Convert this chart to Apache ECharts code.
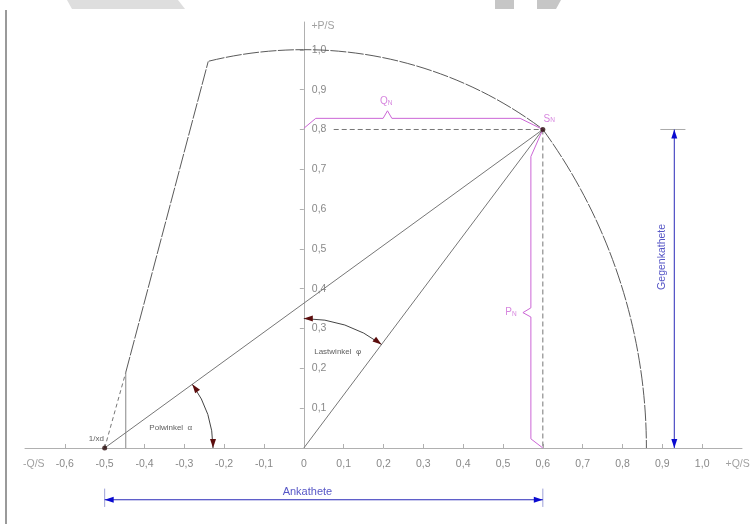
<!DOCTYPE html>
<html>
<head>
<meta charset="utf-8">
<script src="https://cdn.jsdelivr.net/npm/echarts@6/dist/echarts.min.js"></script>
<style>
  html, body { margin: 0; padding: 0; background: #fff; }
  #chart { width: 750px; height: 524px; }
</style>
</head>
<body>
<div id="chart"></div>
<script>
// ---- Axis ticks and labels (per-unit Q/S and P/S) ----
const xTicks = [-0.6, -0.5, -0.4, -0.3, -0.2, -0.1, 0, 0.1, 0.2, 0.3, 0.4, 0.5, 0.6, 0.7, 0.8, 0.9, 1.0];
const xTickLabels = ['-0,6', '-0,5', '-0,4', '-0,3', '-0,2', '-0,1', '0', '0,1', '0,2', '0,3', '0,4', '0,5', '0,6', '0,7', '0,8', '0,9', '1,0'];
const yTicks = [0.1, 0.2, 0.3, 0.4, 0.5, 0.6, 0.7, 0.8, 0.9, 1.0];
const yTickLabels = ['0,1', '0,2', '0,3', '0,4', '0,5', '0,6', '0,7', '0,8', '0,9', '1,0'];

// ---- Characteristic points ----
const ratedPoint = [0.6, 0.8];        // S_N
const excitationPoint = [-0.5, 0];    // 1/xd

// ---- Limit curves: [centre x, centre y, radius, from angle, to angle] (degrees) ----
const statorArc = [0, 0, 1, 53.13, 103.8];      // stator current limit
const rotorArc = [-0.5, 0, 1.36, 0, 36.03];     // excitation (rotor current) limit

// ---- Straight segments ----
const stabilityDashed = [[-0.5, 0], [-0.447, 0.19]];
const stabilitySolid = [[-0.447, 0.19], [-0.24, 0.971]];
const stabilityFoot = [[-0.447, 0], [-0.447, 0.19]];
const poleLine = [[-0.5, 0], [0.6, 0.8]];
const loadLine = [[0, 0], [0.6, 0.8]];
const pLevel = [[0.075, 0.8], [0.6, 0.8]];
const qLevel = [[0.6, 0.8], [0.6, 0]];

// ---- Braces for Q_N and P_N ----
const qBrace = [[0, 0.803], [0.03, 0.828], [0.199, 0.828], [0.21, 0.847], [0.221, 0.828], [0.543, 0.828], [0.6, 0.8]];
const pBrace = [[0.6, 0.8], [0.57, 0.732], [0.57, 0.352], [0.55, 0.34], [0.57, 0.329], [0.57, 0.023], [0.6, 0]];

// ---- Angle arcs: [centre x, centre y, radius, from angle, to angle] ----
const angleArcs = [
  [0, 0, 0.325, 53.13, 90],     // Lastwinkel
  [-0.5, 0, 0.272, 0, 36.03]    // Polwinkel
];

// ---- Dimension arrows: [x1, y1, x2, y2] ----
const dimensionArrows = [
  [-0.5, -0.13, 0.6, -0.13],    // Ankathete
  [0.93, 0, 0.93, 0.8]          // Gegenkathete
];
const ankatheteEnds = [
  [[-0.5, -0.102], [-0.5, -0.148]],
  [[0.6, -0.102], [0.6, -0.148]]
];
const gegenkatheteTop = [[0.895, 0.8], [0.958, 0.8]];

// ---- Annotation texts: [text, x, y] ----
const annotations = [
  ['+P/S', 0.048, 1.059],
  ['-Q/S', -0.678, 0],
  ['+Q/S', 1.089, 0],
  ['1/xd', -0.521, 0.023],
  ['Polwinkel  α', -0.334, 0.052],
  ['Lastwinkel  φ', 0.085, 0.241],
  ['Q_N', 0.207, 0.87],
  ['S_N', 0.616, 0.826],
  ['P_N', 0.52, 0.34],
  ['Ankathete', 0.009, -0.11],
  ['Gegenkathete', 0.9, 0.48]
];

const MAGENTA = '#cc66d6';
const BLUE = '#2a2ab8';
const FONT = 'Liberation Sans, Arial, sans-serif';

function fmt(list, labels) {
  return function (v) {
    for (let i = 0; i < list.length; i++) {
      if (Math.abs(list[i] - v) < 1e-6) return labels[i];
    }
    return '';
  };
}

function segment(data, color, type, width) {
  return {
    type: 'line', data: data, showSymbol: false, symbol: 'none', silent: true, clip: false,
    lineStyle: { color: color, width: width || 1, type: type || 'solid' }, z: 3
  };
}

function rad(d) { return d * Math.PI / 180; }

// Circle arcs drawn through the cartesian scale
function renderArc(params, api) {
  const c = api.coord([api.value(0), api.value(1)]);
  const r = api.size([api.value(2), 0])[0];
  return {
    type: 'arc',
    shape: { cx: c[0], cy: c[1], r: r, startAngle: -rad(api.value(4)), endAngle: -rad(api.value(3)), clockwise: true },
    style: { stroke: '#5a5a5a', fill: 'none', lineWidth: 1, lineDash: [16, 1.5] }
  };
}

// Angle marks with arrowheads at both ends
function renderAngle(params, api) {
  const c = api.coord([api.value(0), api.value(1)]);
  const r = api.size([api.value(2), 0])[0];
  const a0 = rad(api.value(3)), a1 = rad(api.value(4));
  function head(a, dir) {
    const px = c[0] + r * Math.cos(a), py = c[1] - r * Math.sin(a);
    const tx = -Math.sin(a) * dir, ty = -Math.cos(a) * dir;
    const nx = -ty, ny = tx, L = 9, W = 3;
    return {
      type: 'polygon',
      shape: { points: [[px, py], [px - tx * L + nx * W, py - ty * L + ny * W], [px - tx * L - nx * W, py - ty * L - ny * W]] },
      style: { fill: '#5c0d0d' }
    };
  }
  return {
    type: 'group',
    children: [
      {
        type: 'arc',
        shape: { cx: c[0], cy: c[1], r: r, startAngle: -a1, endAngle: -a0, clockwise: true },
        style: { stroke: '#444', fill: 'none', lineWidth: 1 }
      },
      head(a1, 1),
      head(a0, -1)
    ]
  };
}

// Double-headed dimension arrows
function renderArrow(params, api) {
  const p1 = api.coord([api.value(0), api.value(1)]);
  const p2 = api.coord([api.value(2), api.value(3)]);
  const dx = p2[0] - p1[0], dy = p2[1] - p1[1];
  const len = Math.hypot(dx, dy), ux = dx / len, uy = dy / len;
  const nx = -uy, ny = ux, L = 9, W = 3;
  function tri(p, sx, sy) {
    return {
      type: 'polygon',
      shape: { points: [[p[0], p[1]], [p[0] - sx * L + nx * W, p[1] - sy * L + ny * W], [p[0] - sx * L - nx * W, p[1] - sy * L - ny * W]] },
      style: { fill: '#0a0ad0' }
    };
  }
  return {
    type: 'group',
    children: [
      { type: 'line', shape: { x1: p1[0], y1: p1[1], x2: p2[0], y2: p2[1] }, style: { stroke: BLUE, lineWidth: 1 } },
      tri(p2, ux, uy),
      tri(p1, -ux, -uy)
    ]
  };
}

const subRich = {
  m: { fontSize: 10, color: MAGENTA, fontFamily: FONT },
  s: { fontSize: 6.5, color: MAGENTA, fontFamily: FONT, verticalAlign: 'bottom', padding: [3, 0, 0, 0] }
};

function annotationLabel(text) {
  const base = { show: true, position: 'inside', fontFamily: FONT, align: 'center', verticalAlign: 'middle' };
  if (text.indexOf('_') > 0) {
    const parts = text.split('_');
    return Object.assign(base, { formatter: '{m|' + parts[0] + '}{s|' + parts[1] + '}', rich: subRich });
  }
  if (text === '+P/S') return Object.assign(base, { formatter: text, color: '#888', fontSize: 10.5 });
  if (text === '-Q/S' || text === '+Q/S') return Object.assign(base, { formatter: text, color: '#888', fontSize: 10.5, offset: [0, 16] });
  if (text === 'Ankathete') return Object.assign(base, { formatter: text, color: BLUE, fontSize: 11 });
  if (text === 'Gegenkathete') return Object.assign(base, { formatter: text, color: BLUE, fontSize: 10.5, rotate: 90 });
  return Object.assign(base, { formatter: text, color: '#333', fontSize: 8 });
}

const chart = echarts.init(document.getElementById('chart'), null, { renderer: 'canvas' });

chart.setOption({
  animation: false,
  backgroundColor: '#fff',
  graphic: [
    { type: 'rect', shape: { x: 5, y: 10, width: 2, height: 514 }, style: { fill: '#9a9a9a' }, silent: true },
    { type: 'polygon', shape: { points: [[67, 0], [178, 0], [185, 9], [72, 9]] }, style: { fill: '#dedede' }, silent: true },
    { type: 'rect', shape: { x: 495, y: 0, width: 19, height: 9 }, style: { fill: '#c6c6c6' }, silent: true },
    { type: 'polygon', shape: { points: [[537, 0], [561, 0], [556, 9], [537, 9]] }, style: { fill: '#c6c6c6' }, silent: true }
  ],
  grid: { left: 25, right: 8, top: 22, bottom: 76, containLabel: false },
  xAxis: {
    type: 'value', min: -0.7, max: 1.1, interval: 0.1,
    axisLine: { onZero: true, lineStyle: { color: '#b0b0b0', width: 1 } },
    axisTick: { customValues: xTicks, inside: true, length: 4, lineStyle: { color: '#b0b0b0' } },
    axisLabel: { customValues: xTicks, margin: 11, color: '#888', fontSize: 10.5, fontFamily: FONT, formatter: fmt(xTicks, xTickLabels) },
    splitLine: { show: false }
  },
  yAxis: {
    type: 'value', min: 0, max: 1.07, interval: 0.1,
    axisLine: { onZero: true, lineStyle: { color: '#b0b0b0', width: 1 } },
    axisTick: { customValues: yTicks, length: 4, lineStyle: { color: '#b0b0b0' } },
    axisLabel: { customValues: yTicks, inside: true, margin: 8, color: '#888', fontSize: 10.5, fontFamily: FONT, formatter: fmt(yTicks, yTickLabels) },
    splitLine: { show: false }
  },
  series: [
    { type: 'custom', name: 'limits', renderItem: renderArc, data: [statorArc, rotorArc], silent: true, clip: false, z: 3,
      encode: { x: 0, y: 1 } },
    segment(stabilityDashed, '#777', [4, 3]),
    segment(stabilitySolid, '#5a5a5a', [16, 1.5]),
    segment(stabilityFoot, '#888'),
    segment(poleLine, '#777'),
    segment(loadLine, '#777'),
    segment(pLevel, '#777', [5, 3]),
    segment(qLevel, '#777', [5, 3]),
    segment(qBrace, MAGENTA),
    segment(pBrace, MAGENTA),
    segment(ankatheteEnds[0], '#9da0d8'),
    segment(ankatheteEnds[1], '#9da0d8'),
    segment(gegenkatheteTop, '#aaa'),
    { type: 'custom', name: 'angles', renderItem: renderAngle, data: angleArcs, silent: true, clip: false, z: 4,
      encode: { x: 0, y: 1 } },
    { type: 'custom', name: 'dimensions', renderItem: renderArrow, data: dimensionArrows, silent: true, clip: false, z: 4,
      encode: { x: 0, y: 1 } },
    { type: 'scatter', name: 'points', data: [excitationPoint, ratedPoint], symbolSize: 5, silent: true, z: 5,
      itemStyle: { color: '#2b0d0d' } },
    { type: 'scatter', name: 'texts', silent: true, clip: false, z: 6, symbolSize: 0,
      itemStyle: { color: 'rgba(0,0,0,0)' },
      data: annotations.map(function (a) { return { name: a[0], value: [a[1], a[2]], label: annotationLabel(a[0]) }; }) }
  ]
});

// The P/S labels sit to the right of the vertical axis, which lies on Q/S = 0
const zeroX = chart.convertToPixel({ xAxisIndex: 0 }, 0);
const leftX = chart.convertToPixel({ xAxisIndex: 0 }, -0.7);
chart.setOption({ yAxis: { axisLabel: { margin: zeroX - leftX + 8 } } });
</script>
</body>
</html>
